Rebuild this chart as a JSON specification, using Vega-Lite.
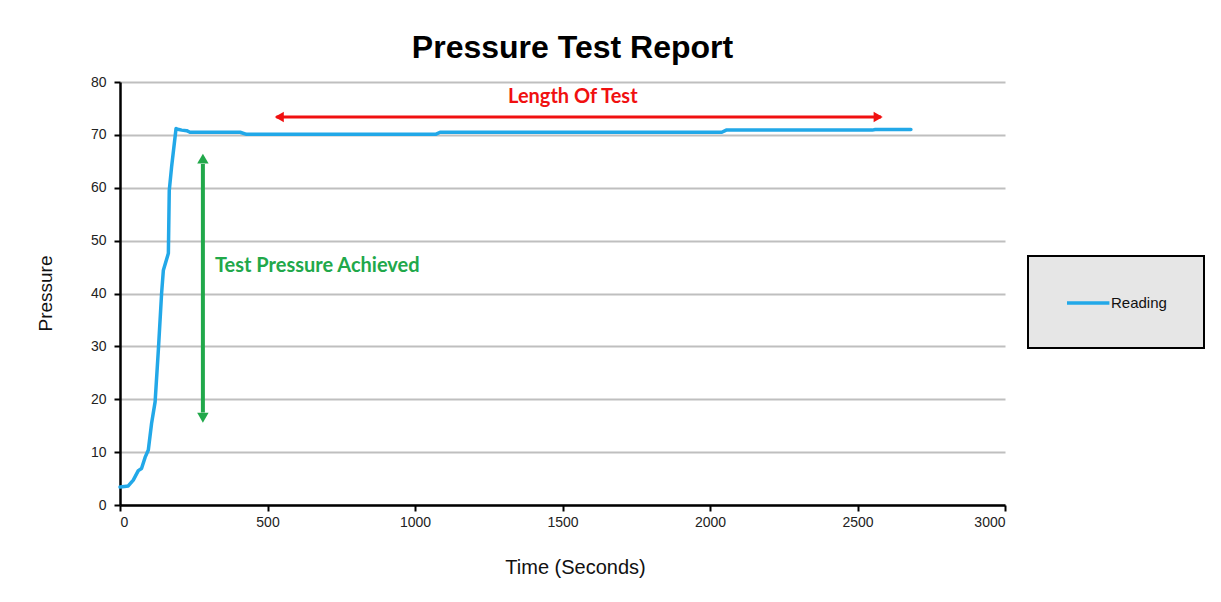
{
  "$schema": "https://vega.github.io/schema/vega-lite/v6.json",
  "autosize": {"type": "none"},
  "width": 885,
  "height": 423,
  "padding": {"left": 120, "top": 82, "right": 216, "bottom": 97},
  "background": "white",
  "title": {
    "text": "Pressure Test Report",
    "font": "Liberation Sans",
    "fontSize": 32,
    "fontWeight": "bold",
    "color": "#000000",
    "anchor": "middle",
    "dx": 10,
    "offset": 10
  },
  "config": {
    "view": {"stroke": null},
    "axis": {
      "labelFont": "Liberation Sans",
      "labelFontSize": 14,
      "labelColor": "#222222",
      "titleFont": "Liberation Sans",
      "titleFontWeight": "normal",
      "titleColor": "#111111",
      "domainColor": "#000000",
      "domainWidth": 2.5,
      "tickColor": "#000000",
      "tickWidth": 2,
      "tickSize": 6,
      "gridColor": "#bfbfbf",
      "gridWidth": 2
    },
    "legend": {
      "orient": "none",
      "legendX": 908,
      "legendY": 174,
      "fillColor": "#e6e6e6",
      "strokeColor": "#000000",
      "strokeWidth": 2,
      "padding": 37,
      "symbolOffset": 0,
      "symbolType": "M-1,0H4.3",
      "symbolSize": 256,
      "symbolStrokeWidth": 3.5,
      "labelFont": "Liberation Sans",
      "labelFontSize": 15,
      "labelColor": "#111111",
      "labelOffset": 26,
      "title": null
    }
  },
  "layer": [
    {
      "data": {"values": [
        {"t": 0, "p": 3.4}, {"t": 15, "p": 3.5}, {"t": 28, "p": 3.6}, {"t": 45, "p": 4.7},
        {"t": 62, "p": 6.5}, {"t": 73, "p": 6.9}, {"t": 85, "p": 9.0}, {"t": 96, "p": 10.4},
        {"t": 107, "p": 15.4}, {"t": 119, "p": 19.5}, {"t": 130, "p": 29.3}, {"t": 141, "p": 40.0},
        {"t": 147, "p": 44.4}, {"t": 164, "p": 47.6}, {"t": 167, "p": 59.5}, {"t": 175, "p": 64.0},
        {"t": 190, "p": 71.2}, {"t": 200, "p": 71.0}, {"t": 209, "p": 70.9}, {"t": 226, "p": 70.8},
        {"t": 237, "p": 70.5}, {"t": 407, "p": 70.5}, {"t": 429, "p": 70.1}, {"t": 1070, "p": 70.1},
        {"t": 1085, "p": 70.5}, {"t": 2040, "p": 70.5}, {"t": 2055, "p": 70.9}, {"t": 2550, "p": 70.9},
        {"t": 2560, "p": 71.0}, {"t": 2681, "p": 71.0}
      ]},
      "mark": {"type": "line", "strokeWidth": 3.5, "strokeCap": "round", "strokeJoin": "round"},
      "encoding": {
        "x": {
          "field": "t", "type": "quantitative",
          "scale": {"domain": [0, 3000], "nice": false},
          "axis": {
            "values": [0, 500, 1000, 1500, 2000, 2500, 3000],
            "format": "d",
            "grid": false,
            "title": "Time (Seconds)",
            "titleFontSize": 20,
            "titleX": 455,
            "titleY": 62,
            "titleBaseline": "middle",
            "labelPadding": 4
          }
        },
        "y": {
          "field": "p", "type": "quantitative",
          "scale": {"domain": [0, 80], "nice": false},
          "axis": {
            "values": [0, 10, 20, 30, 40, 50, 60, 70, 80],
            "grid": true,
            "title": "Pressure",
            "titleFontSize": 19,
            "titleX": -75,
            "titleY": 211,
            "titleBaseline": "middle",
            "titleAngle": -90,
            "titleAlign": "center",
            "labelPadding": 8
          }
        },
        "color": {
          "datum": "Reading",
          "type": "nominal",
          "scale": {"range": ["#22a8e8"]}
        }
      }
    },
    {
      "data": {"values": [
        {"x1": 530, "x2": 2580, "p": 73.4}
      ]},
      "mark": {"type": "rule", "color": "#f01010", "strokeWidth": 3},
      "encoding": {
        "x": {"field": "x1", "type": "quantitative"},
        "x2": {"field": "x2"},
        "y": {"field": "p", "type": "quantitative"}
      }
    },
    {
      "data": {"values": [
        {"t": 540, "p": 73.4, "shape": "triangle-left"},
        {"t": 2570, "p": 73.4, "shape": "triangle-right"}
      ]},
      "mark": {"type": "point", "filled": true, "color": "#f01010", "size": 110, "opacity": 1},
      "encoding": {
        "x": {"field": "t", "type": "quantitative"},
        "y": {"field": "p", "type": "quantitative"},
        "shape": {"field": "shape", "type": "nominal", "scale": null, "legend": null}
      }
    },
    {
      "data": {"values": [
        {"t": 281, "p1": 64.5, "p2": 17.5}
      ]},
      "mark": {"type": "rule", "color": "#21a84a", "strokeWidth": 4},
      "encoding": {
        "x": {"field": "t", "type": "quantitative"},
        "y": {"field": "p1", "type": "quantitative"},
        "y2": {"field": "p2"}
      }
    },
    {
      "data": {"values": [
        {"t": 281, "p": 65.5, "shape": "triangle-up"},
        {"t": 281, "p": 16.5, "shape": "triangle-down"}
      ]},
      "mark": {"type": "point", "filled": true, "color": "#21a84a", "size": 130, "opacity": 1},
      "encoding": {
        "x": {"field": "t", "type": "quantitative"},
        "y": {"field": "p", "type": "quantitative"},
        "shape": {"field": "shape", "type": "nominal", "scale": null, "legend": null}
      }
    },
    {
      "data": {"values": [
        {"t": 1535, "p": 77.2, "label": "Length Of Test"}
      ]},
      "mark": {"type": "text", "color": "#f01010", "font": "Lato", "fontSize": 20, "fontWeight": "bold", "align": "center", "baseline": "middle"},
      "encoding": {
        "x": {"field": "t", "type": "quantitative"},
        "y": {"field": "p", "type": "quantitative"},
        "text": {"field": "label"}
      }
    },
    {
      "data": {"values": [
        {"t": 322, "p": 45.2, "label": "Test Pressure Achieved"}
      ]},
      "mark": {"type": "text", "color": "#21a84a", "font": "Lato", "fontSize": 20, "fontWeight": "bold", "align": "left", "baseline": "middle"},
      "encoding": {
        "x": {"field": "t", "type": "quantitative"},
        "y": {"field": "p", "type": "quantitative"},
        "text": {"field": "label"}
      }
    }
  ]
}
